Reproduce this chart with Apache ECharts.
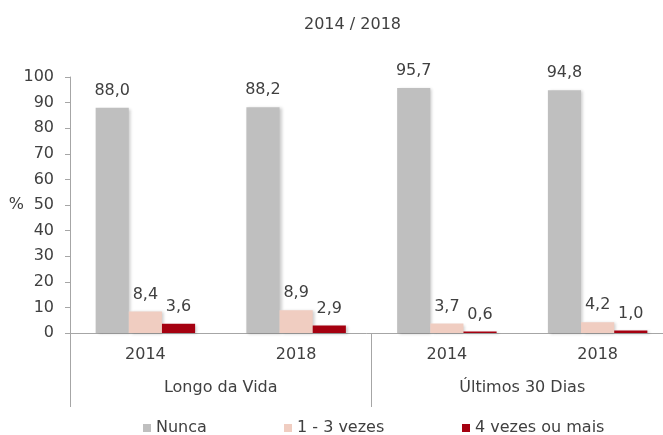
<!DOCTYPE html>
<html>
<head>
<meta charset="utf-8">
<script src="https://cdn.jsdelivr.net/npm/echarts@6/dist/echarts.min.js"></script>
<style>
  html, body { margin: 0; padding: 0; background: #fff; }
  #chart { width: 663px; height: 435px; }
</style>
</head>
<body>
<div id="chart"></div>
<script>
// data
const years = ['2014', '2018', '2014', '2018'];
const groups = ['Longo da Vida', 'Últimos 30 Dias'];
const seriesNames = ['Nunca', '1 - 3 vezes', '4 vezes ou mais'];
const nunca = [88.0, 88.2, 95.7, 94.8];
const umATres = [8.4, 8.9, 3.7, 4.2];
const quatroOuMais = [3.6, 2.9, 0.6, 1.0];
const yTicks = [0, 10, 20, 30, 40, 50, 60, 70, 80, 90, 100];

const colors = ['#bfbfbf', '#f0cdc1', '#a50010'];
const textColor = '#404040';
const lineColor = '#a6a6a6';
const font = 'DejaVu Sans';

const chart = echarts.init(document.getElementById('chart'));

const fmt = (p) => p.value.toFixed(1).replace('.', ',');

function barSeries(name, data, color) {
    return {
        name: name,
        type: 'bar',
        data: data,
        barGap: '0%',
        barCategoryGap: '34%',
        itemStyle: {
            color: color,
            shadowColor: 'rgba(0,0,0,0.2)',
            shadowBlur: 3,
            shadowOffsetX: 2,
            shadowOffsetY: 1
        },
        label: {
            show: true,
            position: 'top',
            distance: 9,
            color: textColor,
            fontFamily: font,
            fontSize: 16,
            formatter: fmt
        }
    };
}

// one legend per entry, so each sits where the reference has it
const legendLeft = [138, 279, 457];
const legends = seriesNames.map((n, i) => ({
    data: [n],
    bottom: -6,
    left: legendLeft[i],
    itemWidth: 8,
    itemHeight: 8,
    icon: 'rect',
    textStyle: { color: textColor, fontFamily: font, fontSize: 16 }
}));

const option = {
    animation: false,
    color: colors,
    title: {
        text: '2014 / 2018',
        left: 299,
        top: 12,
        textStyle: {
            color: textColor,
            fontFamily: font,
            fontSize: 16,
            fontWeight: 'normal'
        }
    },
    legend: legends,
    grid: {
        left: 70,
        top: 77,
        bottom: 102,
        width: 603,
        outerBoundsMode: 'none'
    },
    xAxis: [
        {
            type: 'category',
            data: years,
            position: 'bottom',
            axisLine: { show: true, lineStyle: { color: lineColor } },
            axisTick: { show: false },
            axisLabel: {
                color: textColor,
                fontFamily: font,
                fontSize: 16,
                margin: 14
            }
        },
        {
            type: 'category',
            data: groups,
            position: 'bottom',
            gridIndex: 0,
            axisLine: { show: false },
            axisTick: { show: true, length: 74, lineStyle: { color: lineColor } },
            axisLabel: {
                color: textColor,
                fontFamily: font,
                fontSize: 16,
                margin: 47
            }
        }
    ],
    yAxis: {
        type: 'value',
        min: yTicks[0],
        max: yTicks[yTicks.length - 1],
        interval: 10,
        name: '%',
        nameLocation: 'middle',
        nameGap: 46,
        nameRotate: 0,
        nameMoveOverlap: false,
        nameTextStyle: { color: textColor, fontFamily: font, fontSize: 16 },
        axisLine: { show: true, lineStyle: { color: lineColor } },
        axisTick: { show: true, length: 5, lineStyle: { color: lineColor } },
        axisLabel: {
            color: textColor,
            fontFamily: font,
            fontSize: 16,
            margin: 16
        },
        splitLine: { show: false }
    },
    series: [
        barSeries(seriesNames[0], nunca, colors[0]),
        barSeries(seriesNames[1], umATres, colors[1]),
        barSeries(seriesNames[2], quatroOuMais, colors[2])
    ]
};

chart.setOption(option);
</script>
</body>
</html>
